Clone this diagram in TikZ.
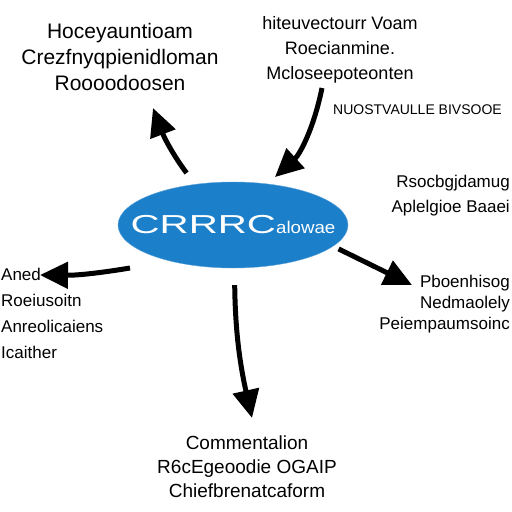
\documentclass[tikz,border=0pt]{standalone}
\usepackage{fontspec}
\setmainfont{Liberation Sans}
\usetikzlibrary{arrows.meta,shapes.geometric}
\definecolor{coreblue}{RGB}{28,127,202}
\tikzset{
  txt/.style={align=center,inner sep=0pt,font=\fontsize{#1}{25}\selectfont},
  txt/.default=19,
  link/.style={line width=5pt,-{Triangle[length=28pt,width=26pt]}}
}
\begin{document}
\begin{tikzpicture}[x=1pt,y=-1pt]
\useasboundingbox (0,0) rectangle (512,512);
\fill[white] (0,0) rectangle (512,512);

% centre
\node[ellipse,fill=coreblue,draw=coreblue!70,minimum width=230pt,minimum height=86pt,inner sep=0pt,text=white] (core) at (233,225)
  {\makebox[120pt]{\scalebox{1.55}[1]{\fontsize{26}{26}\selectfont CRRRC}\scalebox{1.1}[1]{\fontsize{17}{17}\selectfont alowae}}};

% labels round it
\node[txt={21},font=\fontsize{21}{26}\selectfont] (hoc) at (120,57) {Hoceyauntioam\\Crezfnyqpienidloman\\Roooodoosen};
\node[txt={18},font=\fontsize{18}{25}\selectfont] (vom) at (340,50) {hiteuvectourr Voam\\Roecianmine.\\Mcloseepoteonten};
\node[txt,font=\fontsize{14}{16}\selectfont,anchor=west] (nuo) at (333,110) {NUOSTVAULLE BIVSOOE};
\node[txt,align=right,anchor=east,font=\fontsize{17}{25}\selectfont] (apl) at (510,196) {Rsocbgjdamug\\Aplelgioe Baaei};
\node[txt,align=right,anchor=east,font=\fontsize{17}{21}\selectfont] (ped) at (510,304) {Pboenhisog\\Nedmaolely\\Peiempaumsoinc};
\node[txt,align=left,anchor=west,font=\fontsize{17}{26}\selectfont] (ane) at (1,313) {Aned\\Roeiusoitn\\Anreolicaiens\\Icaither};
\node[txt,font=\fontsize{19}{24}\selectfont] (com) at (247,467) {Commentalion\\R6cEgeoodie OGAIP\\Chiefbrenatcaform};

% free ends
\coordinate (hoctip) at (153,108);
\coordinate (vomtail) at (322,88);
\coordinate (anetail) at (130,268);
\coordinate (anetip) at (40,275);
\coordinate (comtip) at (252,418);
\coordinate (pedtip) at (412,285);

\draw[link,shorten <=14pt] (core.133) to[bend left=8] (hoctip);
\draw[link,shorten >=10pt] (vomtail) to[bend left=18] (core.50);
\draw[link] (anetail) to[bend left=5] (anetip);
\draw[link,shorten <=17pt] (core.-88) to[bend right=6] (comtip);
\draw[link,shorten <=6pt] (core.-12) -- (pedtip);
\end{tikzpicture}
\end{document}
